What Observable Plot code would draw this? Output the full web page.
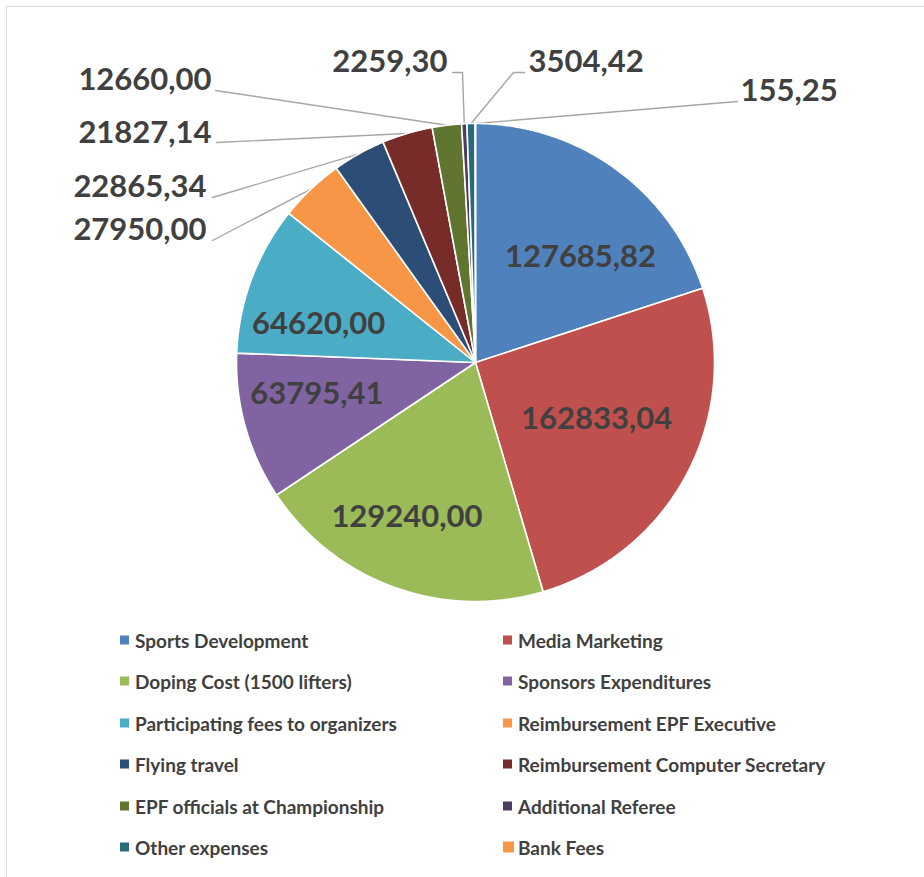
<!DOCTYPE html>
<html>
<head>
<meta charset="utf-8">
<script src="https://cdn.jsdelivr.net/npm/d3@7"></script>
<script src="https://cdn.jsdelivr.net/npm/@observablehq/plot@0.6"></script>
<style>
  html, body { margin: 0; padding: 0; background: #fff; }
  #wrap { position: relative; width: 924px; height: 877px; overflow: hidden; font-family: Lato, "Open Sans", sans-serif; }
  #frame { position: absolute; left: 6px; top: 6px; width: 940px; height: 900px; border-top: 1.5px solid #d9d9d9; border-left: 1.5px solid #d9d9d9; }
  #chart { position: absolute; left: 0; top: 0; }
  .lg { position: absolute; display: flex; align-items: center; font-weight: bold; font-size: 19px; color: #404040; white-space: nowrap; transform: translateY(-50%); }
  .sw { display: inline-block; width: 9px; height: 9px; margin-right: 6px; }
</style>
</head>
<body>
<div id="wrap"><div id="frame"></div><div id="chart"></div><div id="legend"></div></div>
<script>
// ---- data ----
const categories = [
  "Sports Development", "Media Marketing", "Doping Cost (1500 lifters)", "Sponsors Expenditures",
  "Participating fees to organizers", "Reimbursement EPF Executive", "Flying travel",
  "Reimbursement Computer Secretary", "EPF officials at Championship", "Additional Referee",
  "Other expenses", "Bank Fees"
];
const values = [127685.82, 162833.04, 129240.00, 63795.41, 64620.00, 27950.00, 22865.34, 21827.14, 12660.00, 2259.30, 3504.42, 155.25];
const colors = ["#4F81BD", "#C0504D", "#9BBB59", "#8064A2", "#4BACC6", "#F79646", "#2C4D75", "#772C2A", "#5F7530", "#4D3B62", "#276A7C", "#F79646"];

// ---- layout (pixels) ----
const CX = 475, CY = 362, R = 239;
const X = px => (px - CX) / R, Y = py => (CY - py) / R;
const insideNudge = [[18, 15], [-10, -12], [-18, 15], [-16, -9], [-18, 13]];
const outsideLayout = {
  5:  {text: [206, 230], anchor: "end",   path: [[212, 240]]},
  6:  {text: [206, 187], anchor: "end",   path: [[212, 197]]},
  7:  {text: [211, 133], anchor: "end",   path: [[216, 142]]},
  8:  {text: [211, 80],  anchor: "end",   path: [[215, 90]]},
  9:  {text: [447, 62],  anchor: "end",   path: [[452, 72], [462, 72]]},
  10: {text: [528, 62],  anchor: "start", path: [[524, 72], [513, 72]]},
  11: {text: [740, 91],  anchor: "start", path: [[737, 101]]}
};

const fmt = v => v.toFixed(2).replace(".", ",");
const arcs = d3.pie().sort(null).value(d => d)(values);

// slice polygons
const slicePts = [];
arcs.forEach((a, i) => {
  const n = Math.max(2, Math.ceil((a.endAngle - a.startAngle) / (0.4 * Math.PI / 180)));
  slicePts.push({name: categories[i], x: 0, y: 0});
  for (let k = 0; k <= n; k++) {
    const t = a.startAngle + (a.endAngle - a.startAngle) * k / n;
    slicePts.push({name: categories[i], x: Math.sin(t), y: Math.cos(t)});
  }
  slicePts.push({name: categories[i], x: 0, y: 0});
});

const mid = a => (a.startAngle + a.endAngle) / 2;

// inside labels
const insideMarks = [0, 1, 2, 3, 4].map(i => {
  const m = mid(arcs[i]);
  return Plot.text([{x: 0.62 * Math.sin(m), y: 0.62 * Math.cos(m), label: fmt(values[i])}], {
    x: "x", y: "y", text: "label", dx: insideNudge[i][0], dy: insideNudge[i][1],
    fontSize: 31, fontWeight: "bold", fill: "#404040", fontFamily: "Lato", textAnchor: "middle", lineAnchor: "middle"
  });
});

// outside labels and leaders
const leaderPts = [];
const outStart = [], outEnd = [];
Object.entries(outsideLayout).forEach(([k, L]) => {
  const i = +k;
  const m = mid(arcs[i]);
  L.path.forEach(p => leaderPts.push({id: i, x: X(p[0]), y: Y(p[1])}));
  leaderPts.push({id: i, x: Math.sin(m), y: Math.cos(m)});
  const d = {x: X(L.text[0]), y: Y(L.text[1]), label: fmt(values[i])};
  (L.anchor === "end" ? outEnd : outStart).push(d);
});
const outText = (data, anchor) => Plot.text(data, {
  x: "x", y: "y", text: "label", fontSize: 31, fontWeight: "bold", fill: "#404040",
  fontFamily: "Lato", textAnchor: anchor, lineAnchor: "middle"
});

const chart = Plot.plot({
  width: 924, height: 877, margin: 0,
  x: {domain: [-1, 1], range: [CX - R, CX + R], axis: null},
  y: {domain: [-1, 1], range: [CY + R, CY - R], axis: null},
  color: {domain: categories, range: colors},
  style: {background: "transparent", overflow: "visible"},
  marks: [
    Plot.line(leaderPts, {x: "x", y: "y", z: "id", stroke: "#A6A6A6", strokeWidth: 1.4}),
    Plot.line(slicePts, {x: "x", y: "y", z: "name", fill: "name", stroke: "white", strokeWidth: 1.6, strokeLinejoin: "round"}),
    ...insideMarks,
    outText(outEnd, "end"),
    outText(outStart, "start")
  ]
});
document.getElementById("chart").appendChild(chart);

// legend
const legend = document.getElementById("legend");
categories.forEach((c, i) => {
  const col = i % 2, row = Math.floor(i / 2);
  const el = document.createElement("div");
  el.className = "lg";
  el.style.left = (col === 0 ? 120 : 503) + "px";
  el.style.top = (640 + row * 41.4) + "px";
  const sw = document.createElement("span");
  sw.className = "sw";
  sw.style.background = colors[i];
  if (i === 11) { sw.style.width = "11px"; sw.style.height = "11px"; sw.style.marginRight = "4px"; }
  el.appendChild(sw);
  el.appendChild(document.createTextNode(c));
  legend.appendChild(el);
});
</script>
</body>
</html>
